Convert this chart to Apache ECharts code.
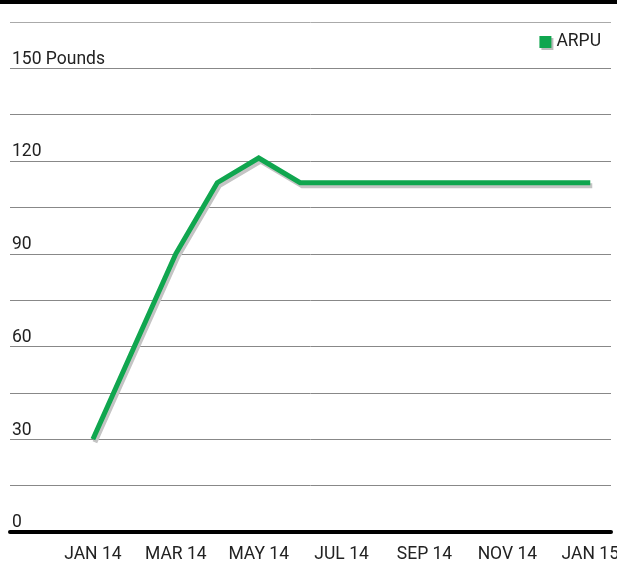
<!DOCTYPE html>
<html>
<head>
<meta charset="utf-8">
<script src="https://cdn.jsdelivr.net/npm/echarts@6/dist/echarts.min.js"></script>
<style>
  html, body { margin: 0; padding: 0; background: #fff; }
  #chart { width: 617px; height: 563px; }
</style>
</head>
<body>
<div id="chart"></div>
<script>
// Monthly ARPU, January 2014 to January 2015
const months = ['JAN 14', 'FEB 14', 'MAR 14', 'APR 14', 'MAY 14', 'JUN 14', 'JUL 14',
                'AUG 14', 'SEP 14', 'OCT 14', 'NOV 14', 'DEC 14', 'JAN 15'];
const arpu = [30, 60, 90, 113, 121, 113, 113, 113, 113, 113, 113, 113, 113];
const seriesName = 'ARPU';
const yUnit = 'Pounds';
const yLabelValues = [0, 30, 60, 90, 120, 150];

const GREEN = '#10a64f';
const FONT = 'Roboto, "Liberation Sans", sans-serif';

const chart = echarts.init(document.getElementById('chart'), null, { renderer: 'canvas' });

chart.setOption({
  animation: false,
  backgroundColor: '#fff',
  textStyle: { fontFamily: FONT },
  graphic: [
    { type: 'rect', left: 0, top: 0, shape: { width: 617, height: 4 }, style: { fill: '#000' } }
  ],
  legend: {
    right: 11,
    top: 28,
    itemWidth: 12,
    itemHeight: 12,
    itemGap: 6,
    icon: 'rect',
    textStyle: { fontFamily: FONT, fontSize: 17.5, color: '#222' },
    itemStyle: { shadowColor: '#bbb', shadowOffsetX: 2, shadowOffsetY: 2, shadowBlur: 0 },
    data: [seriesName]
  },
  grid: { left: 10, right: 6, top: 22, bottom: 31, containLabel: false, outerBoundsMode: 'none' },
  xAxis: {
    type: 'value',
    min: -2,
    max: 12.5,
    interval: 2,
    axisLine: { show: true, onZero: false, lineStyle: { color: '#000', width: 4 } },
    axisTick: { show: false },
    splitLine: { show: false },
    axisLabel: {
      fontFamily: FONT,
      fontSize: 17.5,
      color: '#222',
      margin: 14,
      showMinLabel: false,
      formatter: v => (v >= 0 && v < months.length && Number.isInteger(v)) ? months[v] : ''
    }
  },
  yAxis: {
    type: 'value',
    min: 0,
    max: 165,
    interval: 15,
    axisLine: { show: false },
    axisTick: { show: false },
    splitLine: {
      show: true,
      lineStyle: {
        color: ['#888', '#888', '#888', '#888', '#888', '#888', '#888', '#888', '#888', '#888', '#888', '#aaa'],
        width: 1
      }
    },
    axisLabel: {
      inside: true,
      margin: 2,
      align: 'left',
      verticalAlign: 'bottom',
      lineHeight: 18,
      fontFamily: FONT,
      fontSize: 17.5,
      color: '#222',
      formatter: v => {
        if (!yLabelValues.includes(v)) return '';
        return v === 150 ? v + ' ' + yUnit : String(v);
      }
    }
  },
  series: [{
    name: seriesName,
    type: 'line',
    data: arpu.map((v, i) => [i, v]),
    symbol: 'none',
    color: GREEN,
    lineStyle: {
      color: GREEN,
      width: 5,
      join: 'miter',
      shadowColor: '#c4c4c4',
      shadowOffsetX: 2,
      shadowOffsetY: 3,
      shadowBlur: 0
    }
  }]
});
</script>
</body>
</html>
